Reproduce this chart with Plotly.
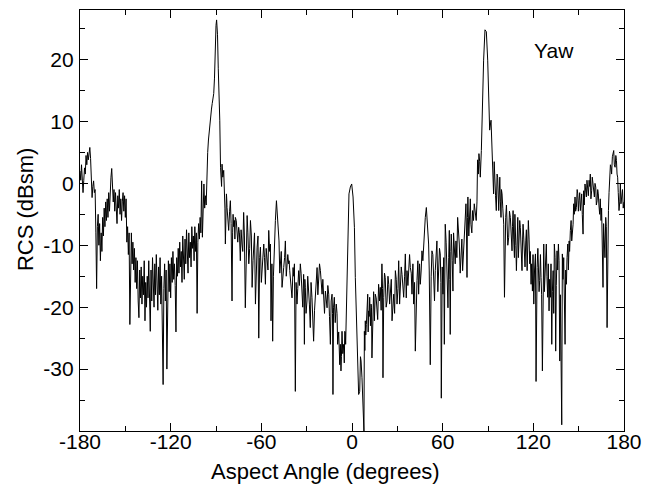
import plotly.graph_objects as go

# Aspect angle (degrees) and RCS (dBsm)
angle_deg = [
    # -180 .. -135
    -180, -179.5, -179, -178.5, -178, -177.5, -177, -176.5, -176, -175.5, -175, -174.5, -174, -173.5, -173,
    -172.5, -172, -171.5, -171, -170.5, -170, -169.5, -169, -168.5, -168, -167.5, -167, -166.5, -166, -165.5,
    -165, -164.5, -164, -163.5, -163, -162.5, -162, -161.5, -161, -160.5, -160, -159.5, -159, -158.5, -158,
    -157.5, -157, -156.5, -156, -155.5, -155, -154.5, -154, -153.5, -153, -152.5, -152, -151.5, -151, -150.5,
    -150, -149.5, -149, -148.5, -148, -147.5, -147, -146.5, -146, -145.5, -145, -144.5, -144, -143.5, -143,
    -142.5, -142, -141.5, -141, -140.5, -140, -139.5, -139, -138.5, -138, -137.5, -137, -136.5, -136, -135.5, -135,
    # -134.5 .. -87
    -134.5, -134, -133.5, -133, -132.5, -132, -131.5, -131, -130.5, -130, -129.5, -129, -128.5, -128, -127.5,
    -127, -126.5, -126, -125.5, -125, -124.5, -124, -123.5, -123, -122.5, -122, -121.5, -121, -120.5, -120,
    -119.5, -119, -118.5, -118, -117.5, -117, -116.5, -116, -115.5, -115, -114.5, -114, -113.5, -113, -112.5,
    -112, -111.5, -111, -110.5, -110, -109.5, -109, -108.5, -108, -107.5, -107, -106.5, -106, -105.5, -105,
    -104.5, -104, -103.5, -103, -102.5, -102, -101.5, -101, -100.5, -100, -99.5, -99, -98.5, -98, -97.5,
    -97, -96.5, -96, -95.5, -95, -94.5, -94, -93.5, -93, -92.5, -92, -91.5, -91, -90.5, -90, -89.6,
    -89, -88.5, -88, -87.5, -87,
    # -86.7 .. -42
    -86.7, -86.0, -84.9, -84.4, -83.8, -83.1, -82.7, -81.6, -80.5, -79.4, -78.7, -77.8, -77.2, -76.1, -75.0,
    -73.9, -72.8, -71.7, -70.6, -69.4, -68.3, -67.2, -66.1, -65.0, -63.9, -62.8, -61.7, -60.6, -59.5, -58.4,
    -57.3, -56.2, -55.1, -54.0, -53.6, -52.5, -51.4, -50.0, -49.2, -48.3, -47.4, -46.3, -45.2, -44.1, -43.0, -41.9,
    # -41.2 .. 3.8
    -41.2, -40.4, -39.0, -38.1, -37.5, -36.4, -35.3, -34.2, -33.1, -32.0, -31.5, -30.9, -29.8, -28.7, -27.6,
    -26.5, -25.4, -24.2, -23.1, -22.0, -20.9, -19.8, -18.7, -17.6, -16.5, -15.4, -14.3, -13.2, -12.6, -11.7,
    -10.4, -9.5, -8.1, -7.3, -6.6, -5.5, -4.8, -4.2, -3.3, -2.6, -2.0, -1.1, -0.2, 0.7, 1.6, 2.2, 2.9, 3.8,
    # 4.4 .. 50.1
    4.4, 5.1, 5.6, 6.0, 6.6, 7.3, 7.9, 8.2, 8.8, 9.5, 10.4, 11.0, 11.7, 12.6, 13.2, 13.9, 14.8, 15.4, 16.5,
    17.6, 18.7, 19.8, 20.5, 21.0, 22.0, 23.2, 24.3, 25.4, 26.5, 27.6, 28.7, 29.8, 30.9, 32.0, 33.1, 34.2,
    35.3, 36.4, 37.5, 38.6, 39.7, 40.8, 41.9, 43.0, 44.1, 45.2, 46.3, 47.4, 48.5, 49.2, 50.1,
    # 50.7 .. 96.4
    50.7, 51.4, 51.8, 52.9, 54.0, 55.1, 56.2, 57.3, 58.4, 59.1, 60.2, 61.1, 61.7, 62.8, 63.5, 64.4, 65.0,
    65.7, 66.8, 67.7, 68.8, 69.9, 71.0, 72.1, 73.2, 74.3, 75.4, 76.1, 76.7, 77.8, 78.7, 79.8, 80.9, 82.2,
    83.1, 84.0, 84.9, 85.6, 86.2, 87.1, 88.0, 88.9, 89.8, 90.4, 91.1, 92.0, 92.8, 93.7, 94.6, 95.5, 96.4,
    # 97.1 .. 143.7
    97.1, 97.8, 98.6, 99.3, 100.4, 100.9, 101.7, 102.6, 103.7, 104.8, 105.9, 106.6, 107.5, 108.1, 108.8,
    109.7, 110.6, 111.4, 112.5, 113.2, 114.1, 115.0, 115.9, 116.7, 117.6, 118.5, 119.4, 120.3, 121.4, 121.8,
    122.5, 123.4, 124.2, 125.1, 126.0, 126.9, 127.8, 128.6, 129.5, 130.4, 131.3, 132.2, 133.1, 133.9, 134.8,
    135.7, 136.6, 137.5, 138.4, 138.8, 139.2, 140.1, 141.0, 141.9, 142.8, 143.7,
    # 144.5 .. 180
    144.5, 145.4, 146.3, 146.7, 147.6, 148.5, 149.4, 150.2, 151.1, 152.0, 152.9, 153.3, 154.2, 155.1, 156.0,
    156.9, 157.7, 158.6, 159.5, 160.4, 161.3, 162.2, 163.0, 163.9, 164.8, 165.7, 166.1, 167.0, 167.9, 168.8,
    169.7, 170.5, 171.4, 172.3, 173.2, 174.1, 175.0, 175.8, 176.7, 177.6, 178.0, 179.0, 180.0,
]

rcs_dbsm = [
    # -180 .. -135
    2.0, 0.5, 3.0, 1.0, -1.5, 0.5, 2.5, 1.5, 4.5, 3.0, 5.0, 3.8, 5.5, 5.8, 4.0,
    1.0, -2.3, -0.5, 0.4, -1.5, -1.0, -8.0, -17.0, -7.0, -5.0, -10.0, -6.5, -12.5, -8.0, -11.0,
    -5.5, -8.5, -4.0, -7.0, -3.0, -6.0, -2.5, -5.5, -1.5, -4.5, -0.5, 1.0, 2.4, 0.0, -3.0,
    -1.0, -4.5, -1.5, -3.5, -6.5, -2.0, -4.0, -1.0, -5.0, -2.5, -6.0, -3.0, -1.5, -4.5, -2.0,
    -5.5, -2.5, -9.5, -7.0, -11.5, -8.0, -22.8, -10.0, -8.0, -13.0, -9.5, -14.0, -10.5, -16.0, -12.0,
    -17.0, -12.5, -19.0, -21.7, -14.0, -18.5, -13.5, -19.5, -15.0, -18.0, -12.5, -22.2, -16.0, -20.0, -15.0, -18.5,
    # -134.5 .. -87
    -12.5, -17.0, -23.9, -14.0, -19.0, -12.0, -17.5, -20.0, -13.0, -18.0, -11.5, -16.5, -20.5, -13.5, -18.0,
    -12.0, -19.5, -15.0, -21.0, -32.5, -17.0, -13.0, -19.0, -14.0, -30.0, -16.0, -12.5, -17.5, -13.0, -18.5,
    -12.0, -16.0, -11.0, -15.5, -13.0, -16.5, -24.0, -12.0, -15.0, -10.5, -14.5, -9.5, -13.5, -11.0, -16.0,
    -8.5, -12.0, -15.5, -9.0, -13.0, -7.5, -11.5, -14.5, -8.0, -12.0, -9.5, -13.5, -7.0, -10.5, -8.5,
    -12.5, -7.0, -11.0, -8.0, -21.0, -9.5, -6.5, -9.0, -5.5, -8.0, 0.4, -8.7, -1.5, -0.1, -4.0,
    -2.0, -3.5, 2.0, 5.0, 7.0, 8.5, 9.1, 10.5, 12.0, 12.9, 14.0, 14.5, 17.0, 22.6, 25.5, 26.4,
    24.0, 18.5, 15.0, 10.2, 2.6,
    # -86.7 .. -42
    1.5, 3.1, 2.1, -0.1, -9.8, -1.7, -3.9, -7.6, -2.8, -19.0, -5.0, -6.0, -5.5, -7.6, -7.1,
    -12.5, -9.8, -4.7, -20.1, -5.2, -13.0, -6.0, -16.8, -9.8, -19.5, -10.3, -25.0, -10.3, -14.1, -9.8,
    -16.3, -12.0, -7.6, -9.8, -22.2, -25.5, -8.7, -2.8, -5.5, -9.3, -12.0, -16.8, -13.6, -9.3, -13.0, -13.0,
    # -41.2 .. 3.8
    -14.1, -16.8, -13.6, -13.0, -33.6, -19.5, -14.1, -13.0, -17.9, -14.7, -26.0, -16.8, -19.0, -16.8, -23.3,
    -18.4, -25.5, -17.9, -13.6, -15.7, -14.1, -17.9, -18.4, -17.4, -20.1, -17.9, -26.0, -17.9, -34.1, -18.4,
    -19.5, -26.0, -29.3, -30.3, -23.9, -26.0, -23.9, -26.0, -15.2, -5.5, -1.7, -0.6, -0.1, -2.2, -7.1, -15.2, -21.7, -25.5,
    # 4.4 .. 50.1
    -34.1, -33.6, -28.0, -28.7, -31.4, -37.4, -40.0, -23.9, -22.2, -22.8, -17.9, -20.6, -18.4, -19.5, -28.2, -19.0, -22.2, -17.9, -20.6,
    -16.3, -16.8, -13.0, -31.4, -18.4, -15.2, -19.0, -16.3, -17.4, -22.2, -17.9, -14.1, -19.5, -12.5, -15.2, -14.7, -18.4,
    -11.4, -14.1, -13.0, -13.6, -17.9, -19.5, -27.1, -15.7, -17.9, -16.3, -10.9, -9.8, -5.5, -3.9, -6.6,
    # 50.7 .. 96.4
    -9.8, -22.2, -29.3, -10.9, -16.3, -14.1, -9.3, -15.2, -11.4, -34.7, -17.9, -26.0, -6.6, -13.6, -20.1, -7.6, -24.4,
    -8.2, -17.4, -9.8, -9.3, -5.5, -9.8, -12.0, -14.1, -8.7, -3.3, -15.2, -2.2, -3.3, -6.6, -4.4, -3.3, -6.0,
    3.8, 4.8, 1.0, 5.3, 14.0, 19.9, 24.8, 24.5, 19.9, 14.0, 8.6, 10.2, 5.3, -1.7, 1.5, -4.4, 1.0,
    # 97.1 .. 143.7
    -4.4, 1.0, -5.5, -1.7, -6.6, -18.4, -5.5, -6.6, -8.7, -5.5, -10.9, -4.4, -12.0, -6.6, -14.1,
    -5.5, -9.8, -7.1, -14.1, -6.6, -12.0, -9.3, -14.1, -6.0, -13.0, -16.3, -17.4, -19.5, -11.4, -32.0,
    -13.6, -13.0, -15.7, -15.2, -30.3, -9.8, -13.0, -9.8, -18.4, -20.6, -18.4, -26.0, -14.1, -9.8, -27.1,
    -10.9, -9.8, -28.7, -36.8, -39.0, -11.4, -12.0, -26.0, -16.3, -9.8, -9.3,
    # 144.5 .. 180
    -7.6, -9.3, -6.6, -3.3, -2.2, -3.9, -1.7, -2.8, -4.4, -1.7, -8.2, -1.2, -0.1, -2.2, -0.6,
    0.5, 1.5, -1.2, -0.1, -2.2, -0.6, -2.8, -1.7, -5.0, -6.0, -8.7, -16.8, -9.3, -5.5, -23.3,
    -4.4, 1.0, 2.6, 4.3, 5.3, 2.6, 3.7, 1.0, -4.4, -0.1, -3.3, -1.0, -3.0,
]

# Additional samples read inside the dense noise band (between the readings above)
angle_fill = [
    -86.3, -85.5, -84.6, -84.1, -83.4, -82.9, -82.2, -81.0, -80.0, -79.0, -78.3, -77.5, -76.6, -75.6, -74.5,
    -73.4, -72.3, -71.2, -70.0, -68.9, -67.7, -66.6, -65.5, -64.5, -63.3, -62.2, -61.1, -60.0, -59.0, -57.9,
    -56.8, -55.6, -54.5, -53.0, -52.0, -50.7, -49.6, -48.7, -47.8, -46.8, -45.7, -44.6, -43.5, -42.5,
    -41.6, -40.8, -39.7, -38.6, -37.8, -37.0, -35.9, -34.8, -33.7, -32.6, -31.8, -31.2, -30.4, -29.3, -28.2,
    -27.1, -26.0, -24.8, -23.7, -22.6, -21.5, -20.4, -19.3, -18.2, -17.1, -16.0, -14.9, -13.8, -12.9, -12.2,
    -11.1, -9.9, -8.8, -7.7, -7.0, -6.1, -5.1, -4.5, -3.8,
    8.5, 9.1, 10.0, 10.7, 11.4, 12.2, 12.9, 13.6, 14.3, 15.1, 16.0, 17.0, 18.2, 19.3, 20.2, 20.8, 21.5,
    22.6, 23.8, 24.9, 26.0, 27.0, 28.2, 29.3, 30.4, 31.5, 32.6, 33.7, 34.8, 35.9, 37.0, 38.1, 39.2, 40.3,
    41.4, 42.5, 43.6, 44.7, 45.8, 46.9, 48.0,
    51.1, 52.4, 53.5, 54.6, 55.7, 56.8, 57.9, 58.8, 59.7, 60.7, 61.4, 62.3, 63.2, 64.0, 64.7, 65.4, 66.3,
    67.2, 68.3, 69.4, 70.5, 71.6, 72.7, 73.8, 74.9, 75.8, 76.4, 77.3, 78.3, 79.3, 80.4, 81.6, 82.7, 83.6, 84.5,
    93.2, 94.1, 95.0, 96.0,
    97.5, 98.2, 98.9, 99.8, 101.3, 102.2, 103.1, 104.2, 105.3, 106.2, 107.0, 107.8, 108.4, 109.2, 110.1,
    111.0, 111.9, 112.9, 113.6, 114.5, 115.4, 116.3, 117.2, 118.0, 118.9, 119.8, 120.8, 122.1, 123.0, 123.8,
    124.7, 125.5, 126.4, 127.3, 128.2, 129.0, 129.9, 130.8, 131.7, 132.6, 133.5, 134.4, 135.2, 136.1, 137.0,
    137.9, 139.6, 140.5, 141.4, 142.3, 143.2,
    144.0, 145.0, 145.8, 147.1, 148.0, 149.0, 149.8, 150.7, 151.5, 152.4, 153.7, 154.6, 155.5, 156.4, 157.3,
    158.1, 159.0, 160.0, 160.8, 161.7, 162.6, 163.4, 164.3, 165.2, 166.5, 167.4, 168.3, 169.2, 170.1, 171.0,
    171.8, 172.7, 173.6, 174.6, 175.4, 176.2, 177.2, 178.5, 179.5,
]

rcs_fill = [
    -0.5, 1.0, 0.5, -4.0, -3.0, -2.5, -6.0, -4.5, -6.5, -8.0, -7.0, -9.0, -6.0, -9.5, -8.0,
    -7.5, -11.0, -8.5, -10.0, -8.0, -10.5, -8.5, -12.5, -8.0, -13.5, -8.5, -12.0, -16.0, -10.5, -12.0,
    -10.5, -14.0, -11.0, -13.0, -15.0, -6.0, -4.0, -7.5, -14.5, -11.0, -15.5, -12.0, -15.0, -11.5,
    -12.5, -15.5, -18.5, -15.0, -20.0, -16.0, -17.0, -16.5, -14.5, -20.0, -17.0, -15.5, -21.0, -15.0, -19.5,
    -16.0, -21.0, -20.5, -15.5, -18.0, -13.0, -17.0, -15.5, -21.0, -19.5, -16.5, -21.5, -19.0, -21.0, -20.0,
    -22.5, -21.0, -24.0, -26.0, -28.0, -27.5, -29.0, -24.0, -22.0,
    -27.0, -24.5, -20.0, -24.0, -21.5, -23.0, -20.0, -22.0, -17.5, -21.0, -18.5, -22.0, -19.0, -20.5, -17.0, -21.0, -14.5,
    -20.0, -15.0, -19.5, -15.5, -19.0, -21.0, -15.5, -17.0, -19.5, -13.5, -17.0, -15.0, -18.5, -16.5, -11.5, -14.5, -13.0,
    -16.0, -19.0, -12.5, -13.0, -14.0, -12.5, -8.0,
    -14.0, -15.0, -11.5, -19.0, -12.0, -17.5, -10.5, -16.0, -13.5, -12.0, -15.0, -9.5, -16.0, -12.0, -15.5, -11.0, -12.5,
    -8.0, -13.0, -12.0, -7.5, -14.5, -9.0, -11.5, -7.0, -8.5, -5.5, -8.5, -2.5, -8.0, -6.0, -5.5, -3.0, 1.5, 3.5,
    2.0, 3.5, -2.0, 1.5,
    -2.0, -3.0, -1.0, -4.0, -8.0, -3.5, -10.0, -4.5, -8.5, -7.0, -9.0, -5.0, -10.0, -8.0, -12.0,
    -6.0, -11.0, -9.0, -8.5, -13.5, -7.5, -10.5, -9.0, -11.0, -13.0, -11.5, -14.0, -17.0, -10.5, -17.5,
    -11.5, -18.0, -14.0, -17.5, -12.5, -15.0, -13.0, -15.5, -13.0, -17.5, -21.0, -12.0, -16.5, -14.0, -12.5,
    -18.0, -15.5, -19.0, -14.0, -12.0, -14.0,
    -11.0, -6.0, -8.0, -5.0, -4.5, -1.0, -4.5, -1.5, -3.0, -5.0, -3.5, -1.5, 0.5, -2.0, -0.5,
    -2.5, 1.0, -1.5, 0.0, -3.5, -1.0, -3.5, -2.5, -4.0, -6.5, -12.0, -7.0, -10.0, -1.5, 3.0,
    1.5, 5.0, 3.0, 4.5, 1.5, -1.5, -3.0, -1.5, -4.0,
]

x_ticks = [-180, -120, -60, 0, 60, 120, 180]
y_ticks = [-30, -20, -10, 0, 10, 20]

# merge the two sample sets in angle order
samples = sorted(zip(angle_deg + angle_fill, rcs_dbsm + rcs_fill))
xs = [a for a, _ in samples]
ys = [v for _, v in samples]

FONT = "Liberation Sans, Arial, sans-serif"

fig = go.Figure()
fig.add_trace(go.Scatter(
    x=xs, y=ys, mode="lines",
    line=dict(color="black", width=1),
    showlegend=False, hoverinfo="skip",
))

axis_common = dict(
    showline=True, linecolor="black", linewidth=1.2, mirror="allticks",
    ticks="inside", ticklen=8, tickwidth=1.2, tickcolor="black",
    showgrid=False, zeroline=False,
    tickfont=dict(family=FONT, size=21, color="black"),
)

fig.update_xaxes(
    range=[-180, 180], tickvals=x_ticks, ticktext=[str(v) for v in x_ticks],
    minor=dict(dtick=30, tick0=0, ticks="inside", ticklen=5, tickcolor="black", tickwidth=1.2),
    ticklabelstandoff=-8,
    **axis_common,
)
fig.update_yaxes(
    range=[-40, 28], tickvals=y_ticks, ticktext=[str(v) for v in y_ticks],
    minor=dict(dtick=5, tick0=0, ticks="inside", ticklen=5, tickcolor="black", tickwidth=1.2),
    ticklabelstandoff=1,
    **axis_common,
)

fig.add_annotation(
    x=0.452, y=-0.097, xref="paper", yref="paper", xanchor="center", yanchor="middle",
    text="Aspect Angle (degrees)", showarrow=False,
    font=dict(family=FONT, size=22, color="black"),
)
fig.add_annotation(
    x=-0.099, y=0.525, xref="paper", yref="paper", xanchor="center", yanchor="middle",
    text="RCS (dBsm)", textangle=-90, showarrow=False,
    font=dict(family=FONT, size=22, color="black"),
)
fig.add_annotation(
    x=133.7, y=21.5, xref="x", yref="y", text="Yaw", showarrow=False,
    font=dict(family=FONT, size=21, color="black"),
)

fig.update_layout(
    width=644, height=484,
    margin=dict(l=72, r=28, t=2, b=61),
    paper_bgcolor="white", plot_bgcolor="white",
)

fig.write_html("out.html")
